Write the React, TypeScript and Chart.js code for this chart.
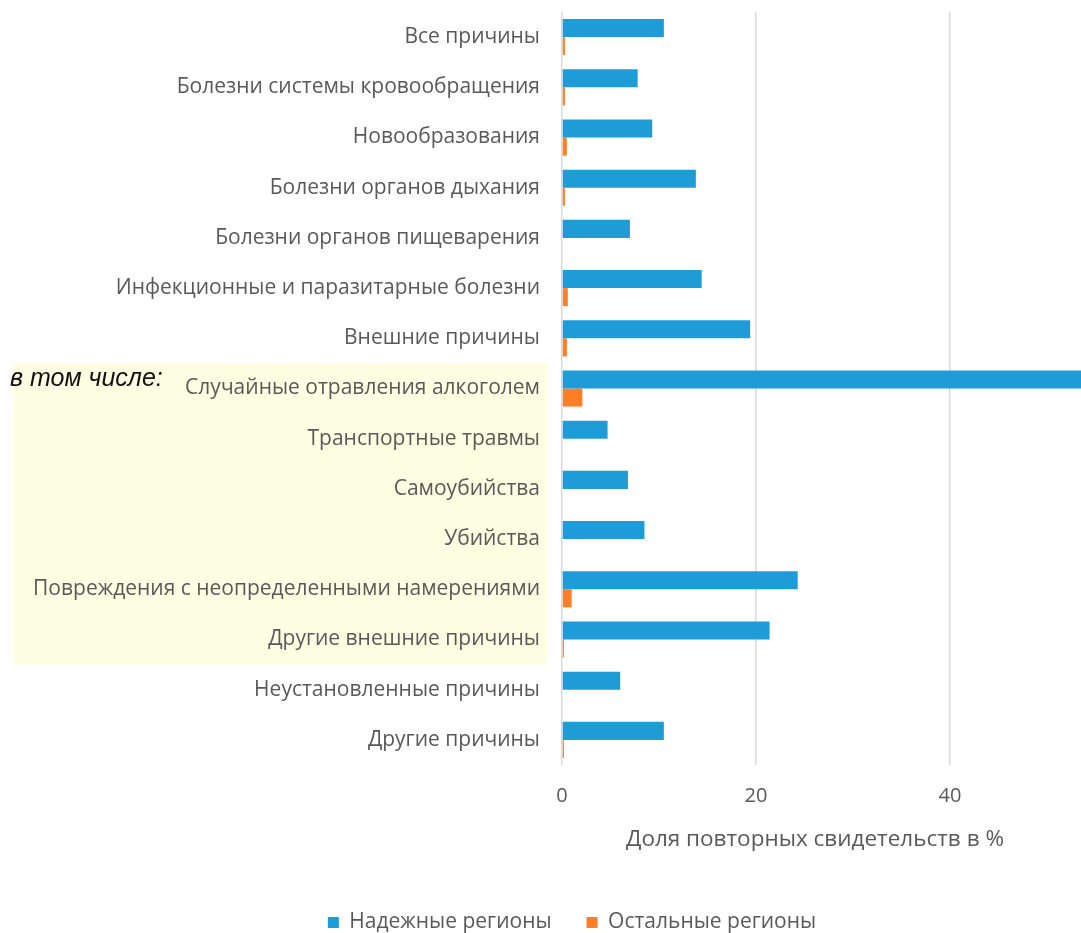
import React, { useEffect, useRef } from "react";
import { Chart, registerables } from "chart.js";

Chart.register(...registerables);

const categories = [
  "Все причины",
  "Болезни системы кровообращения",
  "Новообразования",
  "Болезни органов дыхания",
  "Болезни органов пищеварения",
  "Инфекционные и паразитарные болезни",
  "Внешние причины",
  "Случайные отравления алкоголем",
  "Транспортные травмы",
  "Самоубийства",
  "Убийства",
  "Повреждения с неопределенными намерениями",
  "Другие внешние причины",
  "Неустановленные причины",
  "Другие причины",
];

const reliableRegions = [10.5, 7.8, 9.3, 13.8, 7.0, 14.4, 19.4, 58, 4.7, 6.8, 8.5, 24.3, 21.4, 6.0, 10.5];
const otherRegions = [0.3, 0.3, 0.5, 0.3, 0, 0.6, 0.5, 2.1, 0, 0, 0, 1.0, 0.2, 0, 0.2];

const seriesNames = ["Надежные регионы", "Остальные регионы"];
const xTicks = [0, 20, 40, 60];
const axisTitle = "Доля повторных свидетельств в %";
const groupNote = "в том числе:";
const groupFirst = 7;
const groupLast = 12;

const TEXT = "#595959";
const FONT = "'Open Sans', sans-serif";

export default function App() {
  const ref = useRef<HTMLCanvasElement | null>(null);

  useEffect(() => {
    document.body.style.margin = "0";
    const canvas = ref.current;
    if (!canvas) return;

    const decor = {
      id: "decor",
      beforeDraw(chart: any) {
        const { ctx, chartArea } = chart;
        const y = chart.scales.y;
        const band = (chartArea.bottom - chartArea.top) / categories.length;
        const top = y.getPixelForValue(groupFirst) - band / 2;
        const bottom = y.getPixelForValue(groupLast) + band / 2;
        ctx.save();
        ctx.fillStyle = "#FEFEE2";
        ctx.fillRect(13, top, 534, bottom - top);
        ctx.restore();
      },
      afterDraw(chart: any) {
        const { ctx } = chart;
        const y = chart.scales.y;
        ctx.save();
        ctx.fillStyle = "#111111";
        ctx.font = "italic 25px 'Liberation Sans', Arial, sans-serif";
        ctx.textAlign = "left";
        ctx.textBaseline = "middle";
        ctx.fillText(groupNote, 10, y.getPixelForValue(groupFirst) - 9);
        ctx.fillStyle = TEXT;
        ctx.font = "22.5px " + FONT;
        ctx.textAlign = "center";
        ctx.fillText(axisTitle, 815, 840);
        ctx.restore();
      },
    };

    const chart = new Chart(canvas, {
      type: "bar",
      data: {
        labels: categories,
        datasets: [
          {
            label: seriesNames[0],
            data: reliableRegions,
            backgroundColor: "#1E9CD8",
            categoryPercentage: 0.72,
            barPercentage: 1,
          },
          {
            label: seriesNames[1],
            data: otherRegions,
            backgroundColor: "#FF7F27",
            categoryPercentage: 0.72,
            barPercentage: 1,
          },
        ],
      },
      options: {
        indexAxis: "y",
        animation: false,
        responsive: true,
        maintainAspectRatio: false,
        layout: { padding: { top: 12, right: 2, left: 0, bottom: 0 } },
        scales: {
          x: {
            min: 0,
            max: 60,
            afterBuildTicks: (scale: any) => {
              scale.ticks = xTicks.map((v) => ({ value: v }));
            },
            afterFit: (scale: any) => {
              scale.height = 112;
              scale.paddingLeft = 0;
              scale.paddingRight = 0;
            },
            ticks: {
              color: TEXT,
              padding: 19,
              font: { family: FONT, size: 20 },
            },
            grid: { color: "#D9D9D9", lineWidth: 1.5, drawTicks: false },
            border: { display: false },
          },
          y: {
            afterFit: (scale: any) => {
              scale.width = 562;
              scale.paddingTop = 0;
              scale.paddingBottom = 0;
            },
            ticks: {
              color: TEXT,
              padding: 22,
              font: { family: FONT, size: 21 },
            },
            grid: { display: false, drawTicks: false },
            border: { display: false },
          },
        },
        plugins: {
          legend: {
            position: "bottom",
            labels: {
              color: TEXT,
              boxWidth: 11,
              boxHeight: 11,
              padding: 35,
              font: { family: FONT, size: 21 },
            },
          },
          tooltip: { enabled: false },
        },
      },
      plugins: [decor],
    });
    return () => chart.destroy();
  }, []);

  return (
    <div style={{ width: 1081, height: 933, overflow: "hidden", position: "relative" }}>
      <div style={{ width: 1146, height: 943, position: "absolute", left: 0, top: 0 }}>
        <canvas ref={ref} />
      </div>
    </div>
  );
}
